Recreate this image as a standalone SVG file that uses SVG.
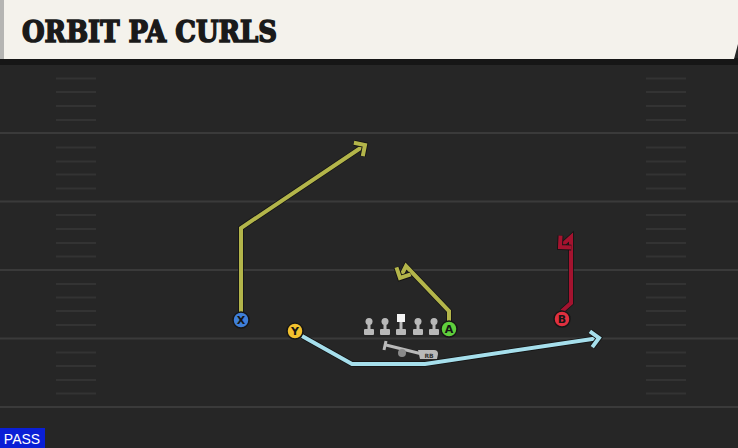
<svg xmlns="http://www.w3.org/2000/svg" width="738" height="448" viewBox="0 0 738 448">
<defs>
<style>
.yl{stroke:#3a3a3a;stroke-width:2}
.hm{stroke:#333333;stroke-width:2}
.rt{fill:none;stroke-width:4;stroke-linejoin:miter;stroke-linecap:butt}
.ol{fill:none;stroke:#141414;stroke-width:5.6;stroke-linejoin:miter;stroke-linecap:butt}
.pc{stroke:#161616;stroke-width:1.5}
.pl{font-family:"DejaVu Sans",sans-serif;font-weight:bold;font-size:11px;fill:#151515;text-anchor:middle}
.ln{fill:#b9b9b9}
</style>
<marker id="aO" viewBox="-14 -14 18 28" refX="0" refY="0" markerWidth="18" markerHeight="28" orient="auto" markerUnits="userSpaceOnUse"><path d="M-8,-8 L0,0 L-8,8" fill="none" stroke="#141414" stroke-width="5.8"/><path d="M-8,-8 L0,0 L-8,8" fill="none" stroke="#b3b54a" stroke-width="4"/></marker>
<marker id="aR" viewBox="-14 -14 18 28" refX="0" refY="0" markerWidth="18" markerHeight="28" orient="auto" markerUnits="userSpaceOnUse"><path d="M-8,-8 L0,0 L-8,8" fill="none" stroke="#141414" stroke-width="5.8"/><path d="M-8,-8 L0,0 L-8,8" fill="none" stroke="#a4132f" stroke-width="4"/></marker>
<marker id="aB" viewBox="-14 -14 18 28" refX="0" refY="0" markerWidth="18" markerHeight="28" orient="auto" markerUnits="userSpaceOnUse"><path d="M-8,-8 L0,0 L-8,8" fill="none" stroke="#141414" stroke-width="5.8"/><path d="M-8,-8 L0,0 L-8,8" fill="none" stroke="#a6dfec" stroke-width="4"/></marker>
</defs>
<rect x="0" y="0" width="738" height="448" fill="#262626"/>
<g id="field">
<line class="yl" x1="0" y1="133" x2="738" y2="133"/>
<line class="yl" x1="0" y1="201.5" x2="738" y2="201.5"/>
<line class="yl" x1="0" y1="270" x2="738" y2="270"/>
<line class="yl" x1="0" y1="338.5" x2="738" y2="338.5"/>
<line class="yl" x1="0" y1="407" x2="738" y2="407"/>
<g id="hashL">
<line class="hm" x1="56" y1="78.5" x2="96" y2="78.5"/><line class="hm" x1="56" y1="92" x2="96" y2="92"/><line class="hm" x1="56" y1="106" x2="96" y2="106"/><line class="hm" x1="56" y1="120" x2="96" y2="120"/>
<line class="hm" x1="56" y1="147.5" x2="96" y2="147.5"/><line class="hm" x1="56" y1="161.5" x2="96" y2="161.5"/><line class="hm" x1="56" y1="174.5" x2="96" y2="174.5"/><line class="hm" x1="56" y1="188.5" x2="96" y2="188.5"/>
<line class="hm" x1="56" y1="215" x2="96" y2="215"/><line class="hm" x1="56" y1="229" x2="96" y2="229"/><line class="hm" x1="56" y1="243" x2="96" y2="243"/><line class="hm" x1="56" y1="256.5" x2="96" y2="256.5"/>
<line class="hm" x1="56" y1="284" x2="96" y2="284"/><line class="hm" x1="56" y1="297.5" x2="96" y2="297.5"/><line class="hm" x1="56" y1="311" x2="96" y2="311"/><line class="hm" x1="56" y1="325" x2="96" y2="325"/>
<line class="hm" x1="56" y1="352.5" x2="96" y2="352.5"/><line class="hm" x1="56" y1="366" x2="96" y2="366"/><line class="hm" x1="56" y1="380" x2="96" y2="380"/><line class="hm" x1="56" y1="393.5" x2="96" y2="393.5"/>
</g>
<g id="hashR">
<line class="hm" x1="646" y1="78.5" x2="686" y2="78.5"/><line class="hm" x1="646" y1="92" x2="686" y2="92"/><line class="hm" x1="646" y1="106" x2="686" y2="106"/><line class="hm" x1="646" y1="120" x2="686" y2="120"/>
<line class="hm" x1="646" y1="147.5" x2="686" y2="147.5"/><line class="hm" x1="646" y1="161.5" x2="686" y2="161.5"/><line class="hm" x1="646" y1="174.5" x2="686" y2="174.5"/><line class="hm" x1="646" y1="188.5" x2="686" y2="188.5"/>
<line class="hm" x1="646" y1="215" x2="686" y2="215"/><line class="hm" x1="646" y1="229" x2="686" y2="229"/><line class="hm" x1="646" y1="243" x2="686" y2="243"/><line class="hm" x1="646" y1="256.5" x2="686" y2="256.5"/>
<line class="hm" x1="646" y1="284" x2="686" y2="284"/><line class="hm" x1="646" y1="297.5" x2="686" y2="297.5"/><line class="hm" x1="646" y1="311" x2="686" y2="311"/><line class="hm" x1="646" y1="325" x2="686" y2="325"/>
<line class="hm" x1="646" y1="352.5" x2="686" y2="352.5"/><line class="hm" x1="646" y1="366" x2="686" y2="366"/><line class="hm" x1="646" y1="380" x2="686" y2="380"/><line class="hm" x1="646" y1="393.5" x2="686" y2="393.5"/>
</g>
</g>
<g id="header">
<rect x="0" y="58" width="738" height="7" fill="#161616"/>
<path d="M0,0 H738 V44 L734,59 H0 Z" fill="#f4f2ec"/>
<rect x="0" y="0" width="4" height="59" fill="#b5b5b3"/>
<text x="22" y="42" font-family="'DejaVu Serif',serif" font-weight="bold" font-size="29" fill="#1a1a1a" stroke="#1a1a1a" stroke-width="1.6" stroke-linejoin="miter" textLength="255" lengthAdjust="spacingAndGlyphs">ORBIT PA CURLS</text>
</g>
<g id="connectors">
<polyline class="ol" points="241,312 241,228 365,145"/>
<polyline class="ol" points="449,321 449,311 406,266 400,278"/>
<polyline class="ol" points="562,311 571,303 571,237 560,247"/>
<polyline class="ol" points="302,336 352,364 425,364 599,338"/>
<polyline class="rt" stroke="#b3b54a" points="241,312 241,228 365,145" marker-end="url(#aO)"/>
<polyline class="rt" stroke="#b3b54a" points="449,321 449,311 406,266 400,278" marker-end="url(#aO)"/>
<polyline class="rt" stroke="#a4132f" points="562,311 571,303 571,237 560,247" marker-end="url(#aR)"/>
<polyline class="rt" stroke="#a6dfec" points="302,336 352,364 425,364 599,338" marker-end="url(#aB)"/>
</g>
<g id="line">
<g class="ln">
<circle cx="369" cy="321.5" r="3.5"/><rect x="367.5" y="322" width="3" height="8"/><rect x="364" y="329" width="10" height="6" rx="1"/>
<circle cx="385" cy="321.5" r="3.5"/><rect x="383.5" y="322" width="3" height="8"/><rect x="380" y="329" width="10" height="6" rx="1"/>
<circle cx="418" cy="321.5" r="3.5"/><rect x="416.5" y="322" width="3" height="8"/><rect x="413" y="329" width="10" height="6" rx="1"/>
<circle cx="434" cy="321.5" r="3.5"/><rect x="432.5" y="322" width="3" height="8"/><rect x="429" y="329" width="10" height="6" rx="1"/>
<rect x="399.5" y="321" width="3" height="8"/><rect x="396" y="329" width="10" height="6" rx="1"/>
</g>
<rect x="397" y="314" width="8" height="8" fill="#f4f4f4"/>
</g>
<g id="qb">
<line x1="386" y1="345" x2="422" y2="354" stroke="#b9b9b9" stroke-width="3"/>
<line x1="386" y1="341" x2="384" y2="350" stroke="#b9b9b9" stroke-width="3"/>
<circle cx="402" cy="353" r="4" fill="#8a8a8a"/>
</g>
<g id="RB">
<path d="M418,350 L434,350 Q438,350 438,354 L437,359 L420,359 Z" fill="#b9b9b9"/>
<text x="429" y="357.5" font-family="'DejaVu Sans',sans-serif" font-weight="bold" font-size="6" fill="#333" text-anchor="middle">RB</text>
</g>
<g id="X"><circle class="pc" cx="241" cy="320" r="8" fill="#3f7fd8"/><text class="pl" x="241" y="324">X</text></g>
<g id="Y"><circle class="pc" cx="295" cy="331" r="8" fill="#f2c12e"/><text class="pl" x="295" y="335">Y</text></g>
<g id="A"><circle class="pc" cx="449" cy="329" r="8" fill="#5fcf3c"/><text class="pl" x="449" y="333">A</text></g>
<g id="B"><circle class="pc" cx="562" cy="319" r="8" fill="#e0303f"/><text class="pl" x="562" y="323">B</text></g>
<g id="pass">
<rect x="0" y="428" width="45" height="20" fill="#0a1fd6"/>
<text x="22" y="444" font-family="'Liberation Sans',sans-serif" font-size="14" fill="#ffffff" text-anchor="middle">PASS</text>
</g>
</svg>
